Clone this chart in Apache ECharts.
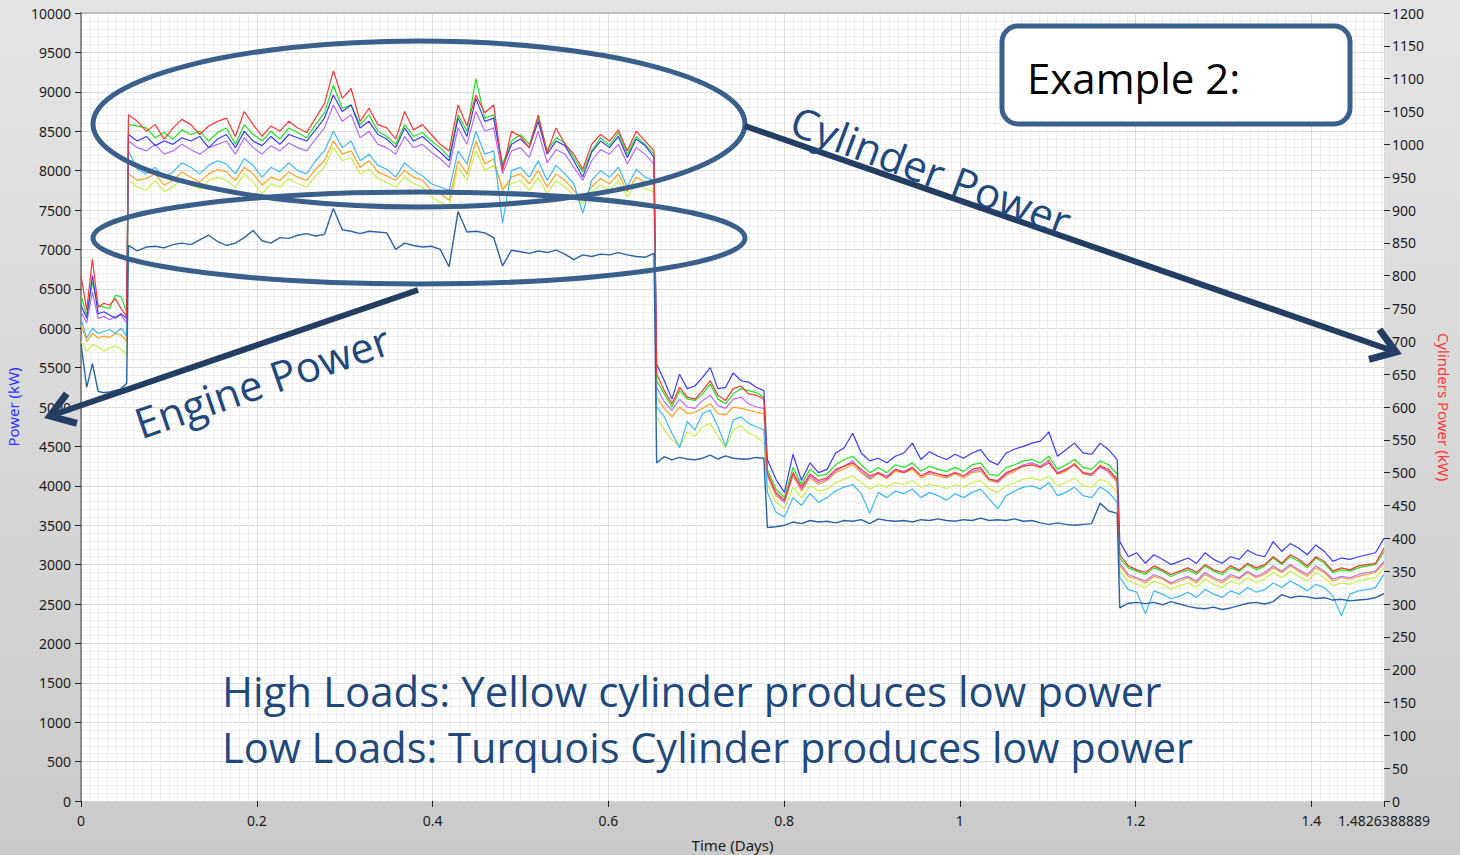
<!DOCTYPE html>
<html>
<head>
<meta charset="utf-8">
<script src="https://cdn.jsdelivr.net/npm/echarts@6/dist/echarts.min.js"></script>
<style>
html,body{margin:0;padding:0;}
#chart{width:1460px;height:855px;background:linear-gradient(to bottom,#e4e4e4 0%,#d8d8d8 50%,#cacaca 100%);}
</style>
</head>
<body>
<div id="chart"></div>
<script>
// ---- time sampling: segments [start, end, count] (days) ----
const segments = [[0, 0.052, 9], [0.054, 0.652, 60], [0.655, 0.777, 15], [0.781, 1.179, 42], [1.182, 1.4826388889, 32]];
const xMax = 1.4826388889;

// ---- Engine power (kW, left axis) ----
const enginePower = [
5800, 5250, 5550, 5200, 5180, 5190, 5210, 5230, 5300,
7050, 6980, 7030, 7040, 7020, 7060, 7080, 7060, 7120, 7180,
7100, 7050, 7080, 7150, 7240, 7110, 7080, 7150, 7140, 7180,
7200, 7170, 7190, 7520, 7250, 7230, 7200, 7230, 7220, 7210,
7000, 7080, 7050, 7030, 7040, 7000, 6780, 7480, 7220, 7230,
7210, 7150, 6790, 6990, 6970, 6950, 6980, 6960, 6990, 6940,
6870, 6930, 6910, 6940, 6930, 6960, 6930, 6910, 6900, 6950,
4290, 4370, 4330, 4360, 4340, 4330, 4350, 4390, 4340, 4380, 4350, 4340, 4340, 4360, 4350,
3470, 3480, 3500, 3540, 3520, 3560, 3540, 3550, 3530, 3560,
3550, 3570, 3520, 3580, 3560, 3550, 3560, 3540, 3570, 3560,
3580, 3560, 3550, 3570, 3560, 3590, 3560, 3570, 3560, 3580,
3550, 3560, 3530, 3510, 3530, 3510, 3500, 3510, 3520, 3780,
3680, 3650,
2450, 2510, 2520, 2505, 2520, 2490, 2530, 2500, 2470, 2450,
2440, 2460, 2430, 2450, 2480, 2510, 2520, 2500, 2530, 2620,
2580, 2600, 2590, 2570, 2580, 2550, 2560, 2540, 2550, 2560,
2580, 2630
];

// ---- Cylinder powers (kW, right axis) ----
const cylRed = [
800, 748, 825, 752, 758, 755, 765, 750, 738,
1045, 1035, 1020, 1030, 1008, 1025, 1038, 1030, 1015, 1028,
1035, 1040, 1012, 1050, 1030, 1012, 1028, 1020, 1035, 1025,
1018, 1040, 1062, 1112, 1070, 1085, 1035, 1055, 1030, 1025,
1008, 1050, 1022, 1030, 1015, 1000, 990, 1060, 1028, 1075,
1048, 1060, 960, 1020, 1012, 995, 1045, 988, 1025, 1000,
985, 962, 1000, 1015, 1005, 1022, 990, 1020, 1005, 990,
650, 625, 605, 630, 615, 612, 625, 640, 618, 610, 628, 632, 620, 618, 612,
500, 470, 458, 500, 478, 498, 488, 492, 505, 510,
515, 505, 495, 500, 492, 505, 500, 508, 495, 502,
498, 495, 500, 495, 505, 508, 490, 488, 500, 505,
510, 512, 508, 515, 498, 505, 512, 500, 498, 510,
505, 490,
375, 358, 352, 348, 358, 352, 345, 350, 355, 348,
360, 352, 348, 358, 352, 362, 355, 360, 372, 362,
375, 368, 358, 372, 365, 350, 355, 352, 358, 360,
362, 385
];
const cylGreen = [
770, 740, 790, 755, 752, 750, 770, 768, 745,
1030, 1028, 1025, 1010, 1018, 1008, 1022, 1015, 1020, 1005,
1018, 1025, 1000, 1030, 1015, 1005, 1020, 1008, 1025, 1018,
1010, 1030, 1048, 1090, 1055, 1060, 1030, 1045, 1020, 1012,
1000, 1030, 1012, 1018, 1005, 995, 980, 1045, 1020, 1100,
1040, 1045, 970, 1005, 1015, 1000, 1040, 990, 1010, 1002,
980, 958, 990, 1010, 998, 1018, 985, 1012, 1000, 985,
640, 620, 600, 625, 612, 610, 620, 635, 612, 605, 620, 628, 625, 622, 615,
505, 475, 462, 508, 482, 505, 495, 498, 512, 520,
525, 512, 500, 508, 500, 512, 508, 515, 502, 510,
505, 502, 508, 502, 512, 515, 498, 495, 508, 512,
518, 520, 515, 525, 505, 512, 520, 508, 505, 518,
512, 498,
370, 355, 350, 345, 355, 350, 342, 348, 352, 345,
358, 350, 345, 355, 350, 360, 352, 358, 370, 360,
372, 365, 355, 370, 362, 348, 352, 350, 355, 358,
360, 380
];
const cylBlue = [
755, 735, 800, 742, 745, 740, 735, 742, 735,
1015, 1005, 1012, 998, 1005, 1000, 1010, 1005, 1012, 995,
1008, 1015, 995, 1020, 1005, 998, 1012, 1000, 1015, 1010,
1005, 1022, 1040, 1075, 1050, 1060, 1025, 1035, 1015, 1008,
995, 1025, 1005, 1012, 1000, 988, 975, 1040, 1012, 1070,
1035, 1040, 965, 1000, 1008, 995, 1035, 985, 1005, 998,
975, 950, 988, 1005, 995, 1012, 980, 1008, 998, 980,
665, 640, 612, 650, 628, 632, 645, 660, 628, 630, 652, 640, 638, 630, 625,
520, 490, 470, 528, 488, 515, 500, 505, 530, 538,
560, 530, 518, 522, 515, 525, 530, 545, 520, 532,
525, 520, 528, 522, 530, 535, 518, 512, 530, 536,
540, 545, 548, 562, 525, 535, 545, 530, 528, 545,
535, 520,
395, 372, 378, 362, 375, 368, 360, 365, 370, 362,
378, 368, 362, 372, 368, 382, 375, 372, 395, 380,
392, 385, 375, 390, 380, 365, 370, 368, 372, 375,
378, 400
];
const cylPurple = [
745, 728, 775, 735, 738, 733, 738, 740, 728,
1005, 995, 990, 1000, 985, 990, 1000, 992, 985, 995,
1000, 1005, 985, 1010, 995, 985, 998, 990, 1002, 995,
990, 1008, 1025, 1060, 1035, 1045, 1010, 1020, 1000, 995,
985, 1012, 995, 1000, 988, 978, 965, 1025, 1000, 1050,
1020, 1025, 955, 990, 995, 980, 1020, 972, 992, 985,
965, 945, 975, 992, 985, 1000, 970, 995, 985, 970,
630, 608, 595, 612, 600, 598, 610, 618, 602, 598, 612, 615, 605, 600, 598,
498, 468, 455, 498, 475, 495, 485, 490, 502, 510,
518, 502, 492, 500, 495, 505, 502, 508, 495, 500,
498, 494, 500, 495, 502, 505, 490, 486, 498, 505,
512, 515, 510, 518, 500, 505, 512, 500, 496, 508,
502, 488,
362, 345, 340, 335, 345, 340, 332, 338, 342, 335,
348, 340, 335, 345, 340, 350, 342, 348, 358, 350,
360, 352, 345, 358, 350, 338, 342, 340, 345, 348,
350, 365
];
const cylLightBlue = [
735, 705, 720, 712, 715, 718, 712, 720, 708,
990, 962, 955, 965, 950, 958, 972, 965, 955, 968,
975, 970, 955, 978, 968, 950, 965, 958, 972, 960,
955, 975, 990, 1020, 995, 1005, 975, 985, 968, 962,
950, 972, 960, 952, 940, 935, 930, 990, 970, 1020,
985, 990, 880, 960, 965, 950, 975, 945, 968, 955,
940, 895, 945, 960, 950, 965, 935, 962, 950, 945,
600, 585, 560, 538, 578, 565, 590, 595, 570, 540, 580, 585, 575, 570, 565,
470, 440, 432, 462, 450, 468, 455, 462, 472, 478,
482, 468, 438, 470, 462, 472, 468, 475, 462, 470,
465, 458, 468, 462, 470, 475, 460, 445, 465, 472,
478, 480, 475, 485, 465, 470, 478, 465, 462, 478,
470, 455,
340, 322, 318, 285, 320, 315, 308, 312, 318, 310,
322, 315, 310, 320, 315, 325, 318, 322, 332, 325,
335, 328, 320, 330, 325, 312, 282, 315, 320, 322,
325, 345
];
const cylOrange = [
725, 700, 712, 705, 708, 706, 712, 710, 700,
955, 945, 948, 955, 938, 945, 958, 950, 942, 955,
962, 958, 945, 965, 955, 938, 950, 945, 958, 950,
945, 962, 975, 1005, 985, 990, 965, 975, 958, 952,
945, 960, 950, 945, 930, 925, 915, 975, 955, 1005,
970, 978, 930, 950, 955, 940, 960, 935, 955, 945,
930, 915, 935, 948, 940, 955, 928, 950, 942, 938,
615, 598, 585, 600, 590, 592, 598, 605, 590, 588, 600, 598, 595, 592, 590,
495, 465, 455, 495, 472, 492, 482, 488, 500, 506,
512, 500, 490, 498, 492, 502, 500, 505, 492, 498,
495, 492, 498, 492, 500, 502, 488, 485, 496, 502,
510, 512, 508, 520, 498, 502, 515, 498, 495, 512,
500, 485,
358, 342, 338, 332, 342, 338, 330, 335, 340, 332,
345, 338, 332, 342, 338, 348, 340, 345, 355, 348,
358, 350, 342, 355, 348, 335, 340, 338, 342, 345,
348, 362
];
const cylYellow = [
700, 685, 695, 692, 685, 690, 693, 688, 680,
945, 935, 930, 945, 928, 935, 948, 938, 932, 945,
950, 945, 935, 955, 942, 925, 940, 935, 948, 940,
935, 952, 965, 995, 975, 980, 955, 962, 948, 942,
935, 950, 940, 935, 920, 912, 905, 965, 945, 990,
960, 968, 935, 940, 945, 930, 950, 925, 945, 935,
922, 910, 928, 938, 930, 945, 920, 940, 932, 928,
585, 565, 550, 540, 562, 555, 570, 575, 555, 538, 565, 572, 560, 555, 545,
482, 455, 445, 478, 462, 480, 472, 475, 485, 490,
495, 485, 475, 482, 478, 485, 482, 488, 478, 482,
480, 476, 482, 478, 485, 488, 475, 470, 480, 485,
490, 492, 488, 495, 480, 485, 492, 480, 478, 490,
485, 470,
350, 335, 330, 325, 335, 330, 322, 328, 332, 325,
338, 330, 325, 335, 330, 340, 332, 338, 348, 340,
350, 342, 335, 348, 340, 328, 332, 330, 335, 338,
340, 355
];

// ---- annotation texts ----
const noteExample = 'Example 2:';
const noteCyl = 'Cylinder Power';
const noteEng = 'Engine Power';
const noteHigh = 'High Loads: Yellow cylinder produces low power';
const noteLow = 'Low Loads: Turquois Cylinder produces low power';

// build time axis samples
const time = [];
segments.forEach(([a, b, n]) => {
  for (let i = 0; i < n; i++) time.push(a + (b - a) * i / (n - 1));
});
const pair = vals => time.map((t, i) => [t, vals[i]]);

const AX_FONT = 'Noto Sans';
const chart = echarts.init(document.getElementById('chart'), null, {renderer: 'svg'});

const G = {left: 81, right: 76, top: 13, bottom: 54};
const plotR = 1460 - G.right;

function arrow(x1, y1, x2, y2, color) {
  const dx = x2 - x1, dy = y2 - y1, L = Math.hypot(dx, dy);
  const ux = -dx / L, uy = -dy / L, a = 0.6, h = 28;
  const p1 = [x2 + h * (ux * Math.cos(a) - uy * Math.sin(a)), y2 + h * (ux * Math.sin(a) + uy * Math.cos(a))];
  const p2 = [x2 + h * (ux * Math.cos(-a) - uy * Math.sin(-a)), y2 + h * (ux * Math.sin(-a) + uy * Math.cos(-a))];
  return [
    {type: 'polyline', z: 100, shape: {points: [[x1, y1], [x2 + ux * 3, y2 + uy * 3]]}, style: {stroke: color, lineWidth: 6, fill: null}},
    {type: 'polyline', z: 100, shape: {points: [p1, [x2, y2], p2]}, style: {stroke: color, lineWidth: 7, fill: null, lineJoin: 'miter'}}
  ];
}

const NOTE_FONT = '"Open Sans", "Noto Sans", sans-serif';
const noteColor = '#1f497d';
const ellColor = '#3a5f8b';
const arrColor = '#233e62';

const graphics = [
  {type: 'line', z: 50, shape: {x1: G.left, y1: G.top, x2: plotR, y2: G.top}, style: {stroke: '#9a9a9a', lineWidth: 1}},
  {type: 'ellipse', z: 100, shape: {cx: 419, cy: 124, rx: 326, ry: 83}, style: {fill: null, stroke: ellColor, lineWidth: 5}},
  {type: 'ellipse', z: 100, shape: {cx: 419, cy: 238, rx: 326, ry: 46}, style: {fill: null, stroke: ellColor, lineWidth: 5}},
  ...arrow(418, 290, 50, 416, arrColor),
  ...arrow(745, 126, 1396, 352, arrColor),
  {type: 'rect', z: 100, shape: {x: 1002, y: 26, width: 348, height: 98, r: 16}, style: {fill: '#ffffff', stroke: ellColor, lineWidth: 5}},
  {type: 'text', z: 101, x: 1027, y: 77, style: {text: noteExample, font: '42px ' + NOTE_FONT, fill: '#000', verticalAlign: 'middle'}},
  {type: 'text', z: 101, x: 793, y: 118, rotation: -0.36, style: {text: noteCyl, font: '42px ' + NOTE_FONT, fill: noteColor, verticalAlign: 'middle'}},
  {type: 'text', z: 101, x: 136, y: 424, rotation: 0.33, style: {text: noteEng, font: '42px ' + NOTE_FONT, fill: noteColor, verticalAlign: 'middle'}},
  {type: 'text', z: 101, x: 222, y: 690, style: {text: noteHigh, font: '42px ' + NOTE_FONT, fill: noteColor, verticalAlign: 'middle'}},
  {type: 'text', z: 101, x: 222, y: 747, style: {text: noteLow, font: '41.5px ' + NOTE_FONT, fill: noteColor, verticalAlign: 'middle'}}
];

const lineSeries = (name, vals, color, axis, w) => ({
  name, type: 'line', yAxisIndex: axis, data: pair(vals), showSymbol: false, symbol: 'none',
  lineStyle: {color, width: w}, itemStyle: {color}, animation: false, silent: true
});

chart.setOption({
  animation: false,
  backgroundColor: 'transparent',
  grid: {left: G.left, right: G.right, top: G.top, bottom: G.bottom, show: true, backgroundColor: '#ffffff', borderWidth: 0,
    containLabel: false, outerBoundsMode: 'none'},
  xAxis: {
    type: 'value', min: 0, max: xMax, interval: 0.2,
    name: 'Time (Days)', nameLocation: 'middle', nameGap: 36,
    nameTextStyle: {color: '#1a1a1a', fontFamily: AX_FONT, fontSize: 15},
    axisLine: {show: false},
    axisTick: {show: true, length: 6, lineStyle: {color: '#222'}},
    axisLabel: {color: '#1a1a1a', fontFamily: AX_FONT, fontSize: 14, margin: 12, showMaxLabel: true, showMinLabel: true,
      formatter: v => (Math.abs(v - xMax) < 1e-6 ? '1.4826388889' : String(+v.toFixed(1)))},
    splitLine: {show: true, lineStyle: {color: '#dadada', width: 1}},
    minorTick: {show: false, splitNumber: 20},
    minorSplitLine: {show: true, lineStyle: {color: '#eeeeee', width: 1}}
  },
  yAxis: [
    {
      type: 'value', min: 0, max: 10000, interval: 500, position: 'left',
      name: 'Power (kW)', nameLocation: 'middle', nameGap: 60,
      nameTextStyle: {color: '#3434ff', fontFamily: AX_FONT, fontSize: 15},
      axisLine: {show: true, lineStyle: {color: '#8a8a8a', width: 2}},
      axisTick: {show: true, length: 6, lineStyle: {color: '#222'}},
      axisLabel: {color: '#1a1a1a', fontFamily: AX_FONT, fontSize: 14, margin: 10, formatter: v => String(v)},
      splitLine: {show: true, lineStyle: {color: '#dadada', width: 1}},
      minorTick: {show: false, splitNumber: 5},
      minorSplitLine: {show: true, lineStyle: {color: '#eeeeee', width: 1}}
    },
    {
      type: 'value', min: 0, max: 1200, interval: 50, position: 'right',
      name: 'Cylinders Power (kW)', nameLocation: 'middle', nameGap: 52, nameRotate: -90,
      nameTextStyle: {color: '#ff3a3a', fontFamily: AX_FONT, fontSize: 15},
      axisLine: {show: false},
      axisTick: {show: true, length: 6, lineStyle: {color: '#222'}},
      axisLabel: {color: '#1a1a1a', fontFamily: AX_FONT, fontSize: 14, margin: 8, formatter: v => String(v)},
      splitLine: {show: false}
    }
  ],
  series: [
    lineSeries('Cylinder 7', cylYellow, '#c8f04a', 1, 1.2),
    lineSeries('Cylinder 6', cylOrange, '#ffa21f', 1, 1.2),
    lineSeries('Cylinder 5', cylLightBlue, '#3cbaf6', 1, 1.2),
    lineSeries('Cylinder 4', cylPurple, '#b56cff', 1, 1.2),
    lineSeries('Cylinder 3', cylGreen, '#1ee61e', 1, 1.2),
    lineSeries('Cylinder 2', cylBlue, '#3a3aff', 1, 1.2),
    lineSeries('Cylinder 1', cylRed, '#ff3535', 1, 1.2),
    lineSeries('Engine', enginePower, '#2a64a6', 0, 1.4)
  ],
  graphic: graphics
});
</script>
</body>
</html>
